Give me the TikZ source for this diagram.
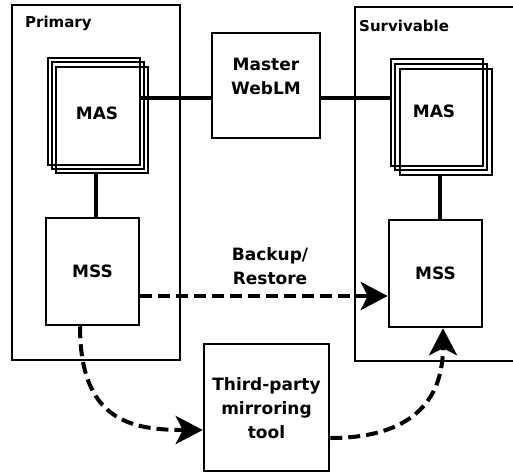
\documentclass[tikz,border=0pt]{standalone}
\usepackage{fontspec}
\setmainfont{DejaVu Sans}
\usetikzlibrary{arrows.meta}
\begin{document}
\begin{tikzpicture}[x=1pt,y=-1pt,
  box/.style={draw, line width=2.5pt, inner sep=0pt},
  stackrect/.style={draw, line width=2pt, inner sep=0pt, minimum width=92pt, minimum height=106pt},
  lbl/.style={font=\bfseries\fontsize{17}{24}\selectfont, align=center, inner sep=0pt},
  title/.style={font=\bfseries\fontsize{15}{18}\selectfont, inner sep=0pt, anchor=base west},
  link/.style={line width=3.5pt},
  flow/.style={line width=4pt, dash pattern=on 12pt off 6pt, -{Stealth[length=27pt,width=28pt,inset=7pt]}}
]
\useasboundingbox (0,0) rectangle (513,473);
% containers
\node[box, minimum width=168pt, minimum height=355pt] (primary) at (96,182.5) {};
\node[title] (primarylbl) at (25,28) {Primary};
\draw[line width=2.5pt] (513,7) -- (355,7) -- (355,361) -- (513,361);
\coordinate (survcorner) at (355,7);
\node[title] (survlbl) at (359,32) {Survivable};
% primary MAS stack
\node[stackrect] (maspb) at (102,120) {};
\node[stackrect] (maspm) at (98,115.5) {};
\node[stackrect] (masp) at (94,111.5) {};
\node[lbl] (maspt) at (97,113) {MAS};
% survivable MAS stack
\node[stackrect] (massb) at (445.5,122) {};
\node[stackrect] (massm) at (441,117) {};
\node[stackrect] (mass) at (436.5,112.5) {};
\node[lbl] (masst) at (434,111) {MAS};
% WebLM
\node[box, minimum width=108pt, minimum height=105pt] (web) at (266,85.5) {};
\node[lbl] (webt) at (266,76) {Master\\WebLM};
% MSS boxes
\node[box, lbl, minimum width=93pt, minimum height=107pt] (mssp) at (92.5,271.5) {MSS};
\node[box, lbl, minimum width=93pt, minimum height=107pt] (msss) at (435.5,273.5) {MSS};
% third-party
\node[box, minimum width=125pt, minimum height=127pt] (tp) at (266.5,407.5) {};
\node[lbl] (tpt) at (266.5,408) {Third-party\\mirroring\\tool};
% backup label
\node[lbl] (bk) at (270,266) {Backup/\\Restore};
% solid links
\draw[link] ([yshift=-12.5pt]web.west) -- ([yshift=-12.5pt]web.west -| masp.east);
\draw[link] ([yshift=-12.5pt]web.east) -- ([yshift=-12.5pt]web.east -| mass.west);
\draw[link] ([xshift=3.5pt]mssp.north) -- ([xshift=3.5pt]mssp.north |- maspb.south);
\draw[link] ([xshift=4.5pt]msss.north) -- ([xshift=4.5pt]msss.north |- massb.south);
% dashed flows
\draw[flow] ([yshift=-24.5pt]mssp.east) -- ([yshift=-24.5pt]mssp.east -| msss.west);
\draw[flow] ([xshift=-12.5pt]mssp.south) .. controls (80,420) and (130,430) .. ([yshift=-22.5pt]tp.west);
\draw[flow] ([yshift=-30.5pt]tp.east) .. controls (400,438) and (443,410) .. ([xshift=7.5pt]msss.south);
\end{tikzpicture}
\end{document}
